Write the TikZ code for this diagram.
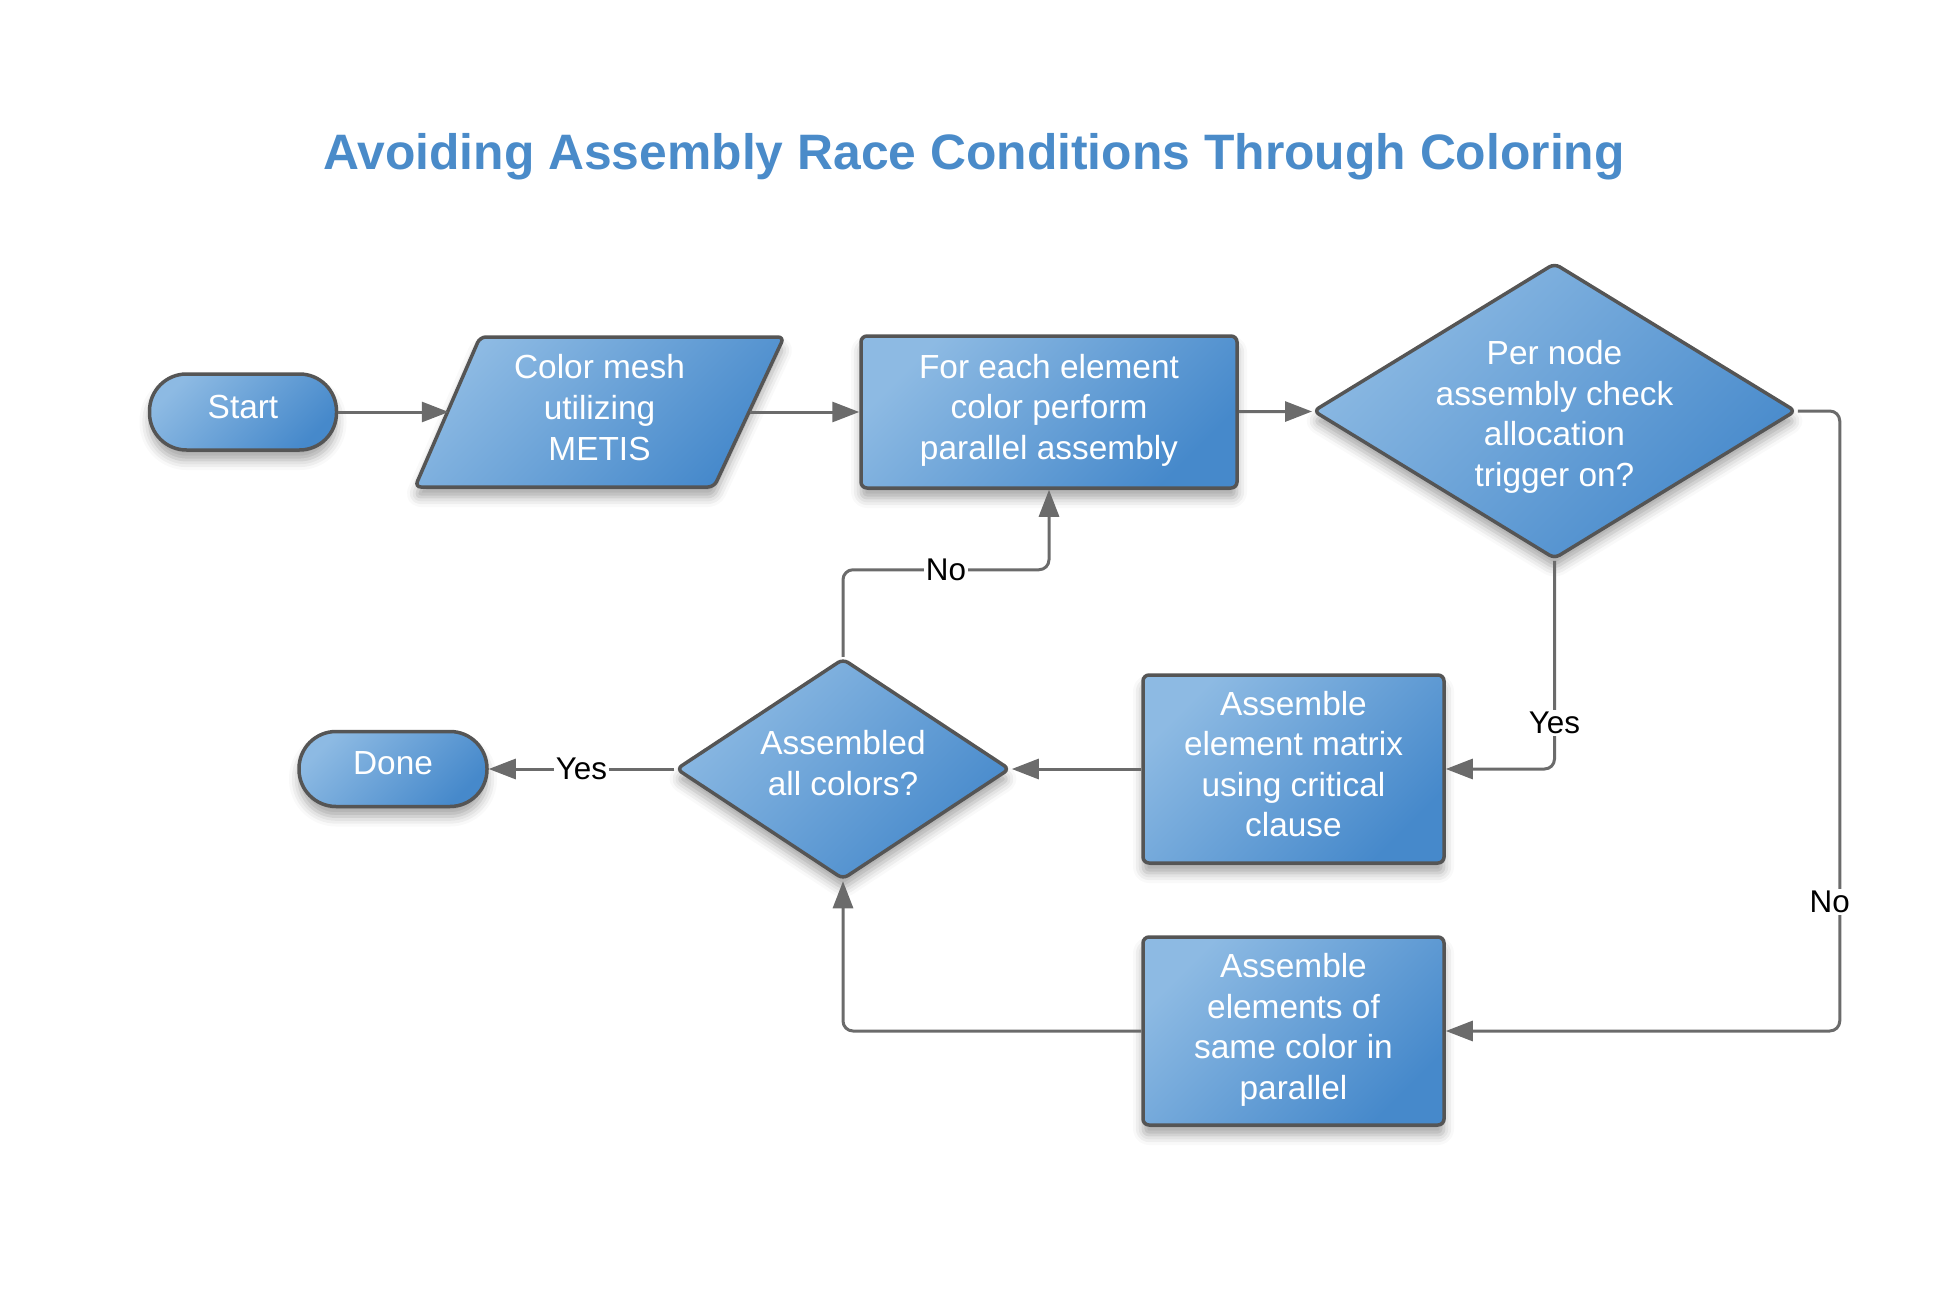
\documentclass[tikz,border=0pt]{standalone}
\usepackage{fontspec}
\setmainfont{Liberation Sans}
\usetikzlibrary{arrows.meta,shapes.geometric,shadows.blur}
\definecolor{boxlight}{HTML}{8DBAE3}
\definecolor{boxdark}{HTML}{4689CB}
\definecolor{edgegray}{HTML}{555555}
\definecolor{linegray}{HTML}{6B6B6B}
\definecolor{titleblue}{HTML}{4A8BC9}
\tikzset{
  base/.style={draw=edgegray, line width=1.75pt, top color=boxlight, bottom color=boxdark,
    shading angle=45, inner sep=2pt,
    blur shadow={shadow xshift=0pt, shadow yshift=-5pt, shadow blur radius=5pt, shadow opacity=35}},
  terminal/.style={base, rectangle, rounded corners=18.5pt},
  process/.style={base, rectangle, rounded corners=3pt},
  decision/.style={base, diamond, rounded corners=3pt},
  io/.style={base, rounded corners=3pt},
  anchorbox/.style={rectangle, inner sep=0pt, outer sep=0pt},
  ntext/.style={text=white, font=\fontsize{16.7}{20.3}\selectfont, align=center},
  conn/.style={draw=linegray, line width=1.5pt, rounded corners=5pt,
    -{Triangle[length=13.5pt,width=10pt]}},
  lbl/.style={fill=white, text=black, font=\fontsize{15.7}{18}\selectfont, inner sep=1pt, sharp corners}
}
\begin{document}
\begin{tikzpicture}[x=0.5pt, y=-0.5pt]
\useasboundingbox (0,0) rectangle (1938,1300);
\node[text=titleblue, font=\fontsize{24.9}{29}\selectfont\bfseries] (title) at (974,157)
  {Avoiding Assembly Race Conditions Through Coloring};

\node[terminal, minimum width=93.5pt, minimum height=38pt] (start) at (243,412) {};
\node[ntext, yshift=2.5pt] (startt) at (start) {Start};
\path[io] (415,487) -- (480,337) -- (784,337) -- (714,487) -- cycle;
\node[anchorbox, minimum width=150.75pt, minimum height=75pt] (mesh) at (599.5,412) {};
\node[ntext, yshift=2.2pt] (mesht) at (mesh) {Color mesh\\utilizing\\METIS};
\node[process, minimum width=188pt, minimum height=76pt] (each) at (1049,412) {};
\node[ntext, yshift=1pt] (eacht) at (each) {For each element\\color perform\\parallel assembly};
\node[decision, minimum width=241.5pt, minimum height=148pt] (check) at (1554.5,411) {};
\node[ntext, yshift=-3pt] (checkt) at (check) {Per node\\assembly check\\allocation\\trigger on?};
\node[decision, minimum width=167pt, minimum height=110.5pt] (all) at (843,769) {};
\node[ntext, yshift=3pt] (allt) at (all) {Assembled\\all colors?};
\node[terminal, minimum width=94pt, minimum height=37.5pt] (done) at (393,769) {};
\node[ntext, yshift=3pt] (donet) at (done) {Done};
\node[process, minimum width=150.5pt, minimum height=94pt] (crit) at (1293.5,769) {};
\node[ntext, yshift=2.5pt] (critt) at (crit) {Assemble\\element matrix\\using critical\\clause};
\node[process, minimum width=150.5pt, minimum height=94pt] (same) at (1293.5,1031) {};
\node[ntext, yshift=0.6pt] (samet) at (same) {Assemble\\elements of\\same color in\\parallel};

\draw[conn] (start) -- (mesh);
\draw[conn] (mesh) -- (each);
\draw[conn] (each) -- (check);
\draw[conn] (check.east) -- ++(42,0) |- node[lbl, pos=0.396, xshift=-5pt] {No} (same.east);
\draw[conn] (check.south) |- node[lbl, pos=0.39] {Yes} (crit.east);
\draw[conn] (crit) -- (all);
\draw[conn] (same.west) -| (all.south);
\draw[conn] (all) -- node[lbl] {Yes} (done);
\draw[conn] (all.north) -- ++(0,-87) -| node[lbl, pos=0.25] {No} (each.south);
\end{tikzpicture}
\end{document}
